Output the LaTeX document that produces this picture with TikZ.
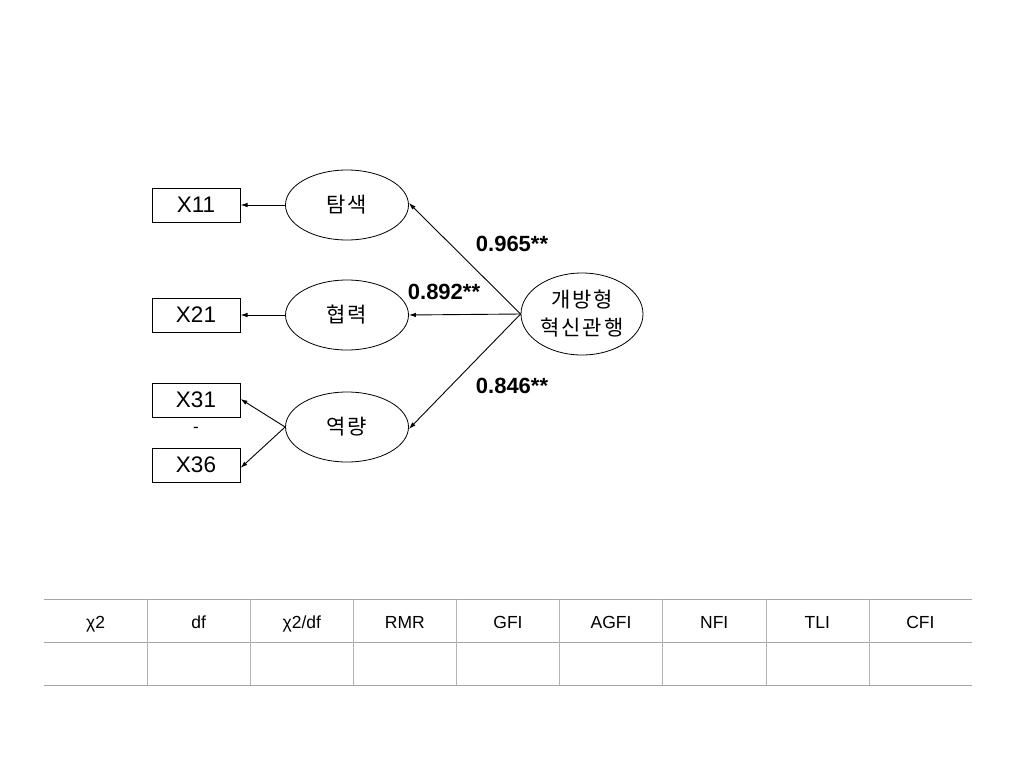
\documentclass[tikz,border=0pt]{standalone}
\usepackage{fontspec}
\setmainfont{Liberation Sans}
\newfontfamily\kr[LetterSpace=9]{Noto Sans CJK KR}
\usetikzlibrary{shapes.geometric,arrows.meta}
\begin{document}
\begin{tikzpicture}[x=1pt,y=-1pt,
  obs/.style={draw,line width=1pt,minimum width=88pt,minimum height=34pt,inner sep=0pt,font=\fontsize{22.5}{24}\selectfont},
  lat/.style={draw,ellipse,line width=0.8pt,minimum width=123pt,minimum height=70pt,inner sep=0pt,font=\kr\fontsize{21}{24}\selectfont},
  arr/.style={line width=0.9pt,-{Latex[length=7pt,width=4.5pt]}},
  coef/.style={font=\bfseries\fontsize{22}{24}\selectfont},
  hline/.style={draw=gray!70,line width=0.8pt},
  vline/.style={draw=gray!60,line width=0.5pt},
  th/.style={anchor=base,font=\fontsize{17.5}{19}\selectfont}]
\useasboundingbox (0,0) rectangle (1024,768);
\node[obs] (x11) at (196,205) {X11};
\node[obs] (x21) at (196,315) {X21};
\node[obs] (x31) at (196,400) {X31};
\node[obs] (x36) at (196,465) {X36};
\node[font=\fontsize{17}{18}\selectfont] (dash) at (196,430) {-};
\node[lat] (t) at (347,205) {탐색};
\node[lat] (h) at (347,315) {협력};
\node[lat] (y) at (347,427) {역량};
\node[lat,minimum width=122pt,minimum height=82pt,align=center,font=\kr\fontsize{21}{28}\selectfont] (o) at (582,314) {개방형\\혁신관행};
\draw[arr] (t.west) -- (x11.east);
\draw[arr] (h.west) -- (x21.east);
\draw[arr] (y.west) -- ([yshift=1pt]x31.east);
\draw[arr] (y.west) -- ([yshift=-3pt]x36.east);
\draw[arr] (o.west) -- ([yshift=2pt]t.east);
\draw[arr] (o.west) -- (h.east);
\draw[arr] (o.west) -- ([yshift=-2pt]y.east);
\node[coef] (c1) at (512,244) {0.965**};
\node[coef] (c2) at (444,292) {0.892**};
\node[coef] (c3) at (512,386) {0.846**};
% table
\draw[hline] (44,599) -- (972,599);
\draw[hline] (44,642) -- (972,642);
\draw[hline] (44,685) -- (972,685);
\foreach \i in {1,...,8}{
  \draw[vline] ({44+\i*103.11},599) -- ({44+\i*103.11},685);
}
\foreach \t [count=\i from 0] in {χ2,df,χ2/df,RMR,GFI,AGFI,NFI,TLI,CFI}{
  \node[th] (h\i) at ({44+103.11*(\i+0.5)},628) {\t};
}
\end{tikzpicture}
\end{document}
